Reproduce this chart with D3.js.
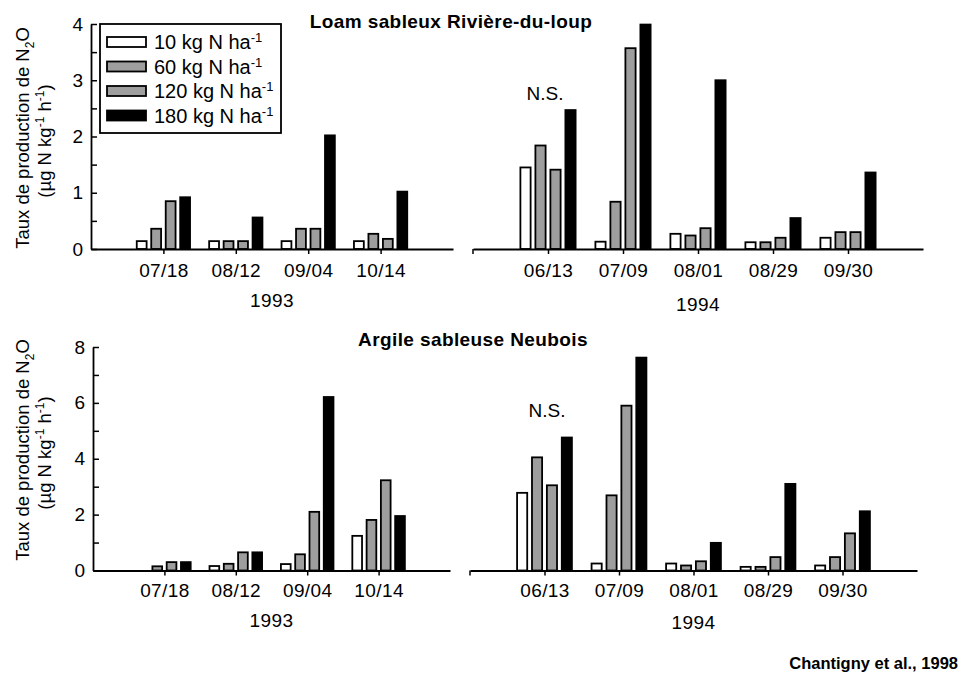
<!DOCTYPE html>
<html>
<head>
<meta charset="utf-8">
<script src="https://cdn.jsdelivr.net/npm/d3@7"></script>
<style>
  body { margin: 0; background: #fff; }
  text { font-family: "Liberation Sans", Arial, sans-serif; fill: #000; }
</style>
</head>
<body>
<div id="chart"></div>
<script>
// sampling dates
var dates1993 = ["07/18", "08/12", "09/04", "10/14"]
var dates1994 = ["06/13", "07/09", "08/01", "08/29", "09/30"]

// N rates (legend)
var rates = ["10", "60", "120", "180"]
var rateFill = ["#ffffff", "#9e9e9e", "#9e9e9e", "#000000"]

// Loam sableux Riviere-du-loup, one row per N rate (10, 60, 120, 180)
var loam1993 = [
  [0.14, 0.14, 0.14, 0.14],
  [0.36, 0.14, 0.36, 0.27],
  [0.85, 0.14, 0.36, 0.18],
  [0.92, 0.56, 2.02, 1.02]
]
var loam1994 = [
  [1.45, 0.13, 0.27, 0.12, 0.20],
  [1.84, 0.84, 0.24, 0.12, 0.30],
  [1.41, 3.57, 0.37, 0.20, 0.30],
  [2.47, 3.99, 3.00, 0.55, 1.36]
]

// Argile sableuse Neubois (null = no bar)
var argile1993 = [
  [null, 0.16, 0.23, 1.24],
  [0.15, 0.24, 0.58, 1.81],
  [0.30, 0.65, 2.10, 3.23],
  [0.30, 0.65, 6.21, 1.95]
]
var argile1994 = [
  [2.78, 0.25, 0.25, 0.13, 0.18],
  [4.05, 2.69, 0.18, 0.13, 0.48],
  [3.05, 5.90, 0.33, 0.48, 1.33],
  [4.76, 7.62, 0.99, 3.10, 2.12]
]

var width = 964
var height = 673

var svg = d3.select("#chart").append("svg")
  .attr("width", width)
  .attr("height", height)

svg.append("rect").attr("width", width).attr("height", height).attr("fill", "#fff")

// text with sub/superscripts: parts = [[str, "sup"|"sub"|undefined], ...]
function rich(t, parts, small){
  var shift = 0
  parts.forEach(function(p){
    var target = p[1] == "sup" ? -7 : (p[1] == "sub" ? 5 : 0)
    var ts = t.append("tspan").text(p[0]).attr("dy", target - shift)
    if(p[1]) ts.attr("font-size", small || 12)
    shift = target
  })
}

var panels = [
  { title: "Loam sableux Rivière-du-loup", titleX: 451, titleY: 28,
    yMax: 4, yStep: 0.5, yTop: 24, y0: 249, axisX: 91,
    seg93: [91, 453], seg94: [473, 923], pad: 10,
    v93: loam1993, v94: loam1994, ns: [545, 100], yearY: [307, 311], ytitleY: 138 },
  { title: "Argile sableuse Neubois", titleX: 473, titleY: 346,
    yMax: 8, yStep: 1, yTop: 347, y0: 570.5, axisX: 93,
    seg93: [93, 450], seg94: [470, 917], pad: 8,
    v93: argile1993, v94: argile1994, ns: [547, 417], yearY: [627, 629], ytitleY: 450 }
]

panels.forEach(function(p, pi){
  var g = svg.append("g")

  var y = d3.scaleLinear().domain([0, p.yMax]).range([p.y0, p.yTop])

  // bars for each year block
  ;[[dates1993, p.v93, p.seg93], [dates1994, p.v94, p.seg94]].forEach(function(block){
    var x = d3.scalePoint().domain(block[0]).range(block[2]).padding(1)
    var slot = x.step() * 0.2
    var bw = slot * 0.68

    block[1].forEach(function(vals, si){
      g.selectAll(null)
        .data(vals.map(function(v, i){ return {date: block[0][i], v: v} }).filter(function(d){ return d.v != null }))
        .enter()
        .append("rect")
        .attr("x", function(d){ return x(d.date) + (si - 1.5) * slot - bw / 2 })
        .attr("y", function(d){ return y(d.v) })
        .attr("width", bw)
        .attr("height", function(d){ return y(0) - y(d.v) })
        .attr("fill", rateFill[si])
        .attr("stroke", "#000")
        .attr("stroke-width", 1.8)
    })

    var xa = g.append("g")
      .attr("transform", "translate(0," + p.y0 + ")")
      .call(d3.axisBottom(x).tickSizeInner(5).tickSizeOuter(0).tickPadding(p.pad))
    xa.select(".domain").attr("stroke-width", 1.8)
    xa.selectAll(".tick line").attr("stroke-width", 1.5)
    xa.selectAll("text").attr("font-size", 19).attr("font-family", "Liberation Sans, Arial, sans-serif")
      .style("letter-spacing", "0.4px")

    // year label under each block
    g.append("text")
      .attr("x", (block[2][0] + block[2][1]) / 2)
      .attr("y", block[0] == dates1993 ? p.yearY[0] : p.yearY[1])
      .attr("text-anchor", "middle")
      .attr("font-size", 19)
      .style("letter-spacing", "0.4px")
      .text(block[0] == dates1993 ? "1993" : "1994")
  })

  // small break tick at start of the 1994 axis
  g.append("line")
    .attr("x1", p.seg94[0]).attr("x2", p.seg94[0])
    .attr("y1", p.y0).attr("y2", p.y0 + 5)
    .attr("stroke", "#000").attr("stroke-width", 1.5)

  // y axis, ticks pointing inward
  var ya = g.append("g")
    .attr("transform", "translate(" + p.axisX + ",0)")
    .call(d3.axisLeft(y)
      .tickValues(d3.range(0, p.yMax + 0.001, p.yStep))
      .tickFormat(function(d){ return d % (p.yMax / 4) == 0 ? d : "" })
      .tickSizeInner(-6).tickSizeOuter(0).tickPadding(8))
  ya.select(".domain").attr("stroke-width", 1.8)
  ya.selectAll(".tick line").attr("stroke-width", 1.5)
  ya.selectAll("text").attr("font-size", 19).attr("font-family", "Liberation Sans, Arial, sans-serif")

  // y title
  var yt = g.append("text")
    .attr("transform", "translate(29," + p.ytitleY + ") rotate(-90)")
    .attr("text-anchor", "middle")
    .attr("font-size", 18.5)
  rich(yt, [["Taux de production de N"], ["2", "sub"], ["O"]])
  var yt2 = g.append("text")
    .attr("transform", "translate(51," + (p.ytitleY + 3) + ") rotate(-90)")
    .attr("text-anchor", "middle")
    .attr("font-size", 18.5)
  rich(yt2, [["(µg N kg"], ["-1", "sup"], [" h"], ["-1", "sup"], [")"]])

  // panel title
  g.append("text")
    .attr("x", p.titleX).attr("y", p.titleY)
    .attr("text-anchor", "middle")
    .attr("font-size", 19)
    .attr("font-weight", "bold")
    .style("letter-spacing", "0.4px")
    .text(p.title)

  g.append("text")
    .attr("x", p.ns[0]).attr("y", p.ns[1])
    .attr("text-anchor", "middle")
    .attr("font-size", 19)
    .text("N.S.")
})

// legend (top panel only)
var lg = svg.append("g")
lg.append("rect")
  .attr("x", 100).attr("y", 24).attr("width", 181).attr("height", 109)
  .attr("fill", "#fff").attr("stroke", "#000").attr("stroke-width", 1.8)

rates.forEach(function(r, i){
  var cy = 42 + i * 24.5
  lg.append("rect")
    .attr("x", 107).attr("y", cy - 5).attr("width", 39).attr("height", 10)
    .attr("fill", rateFill[i]).attr("stroke", "#000").attr("stroke-width", 1.8)
  var t = lg.append("text")
    .attr("x", 154).attr("y", cy + 7)
    .attr("font-size", 20)
  rich(t, [[r + " kg N ha"], ["-1", "sup"]], 13)
})

svg.append("text")
  .attr("x", 958).attr("y", 669)
  .attr("text-anchor", "end")
  .attr("font-size", 16.5)
  .attr("font-weight", "bold")
  .text("Chantigny et al., 1998")
</script>
</body>
</html>
